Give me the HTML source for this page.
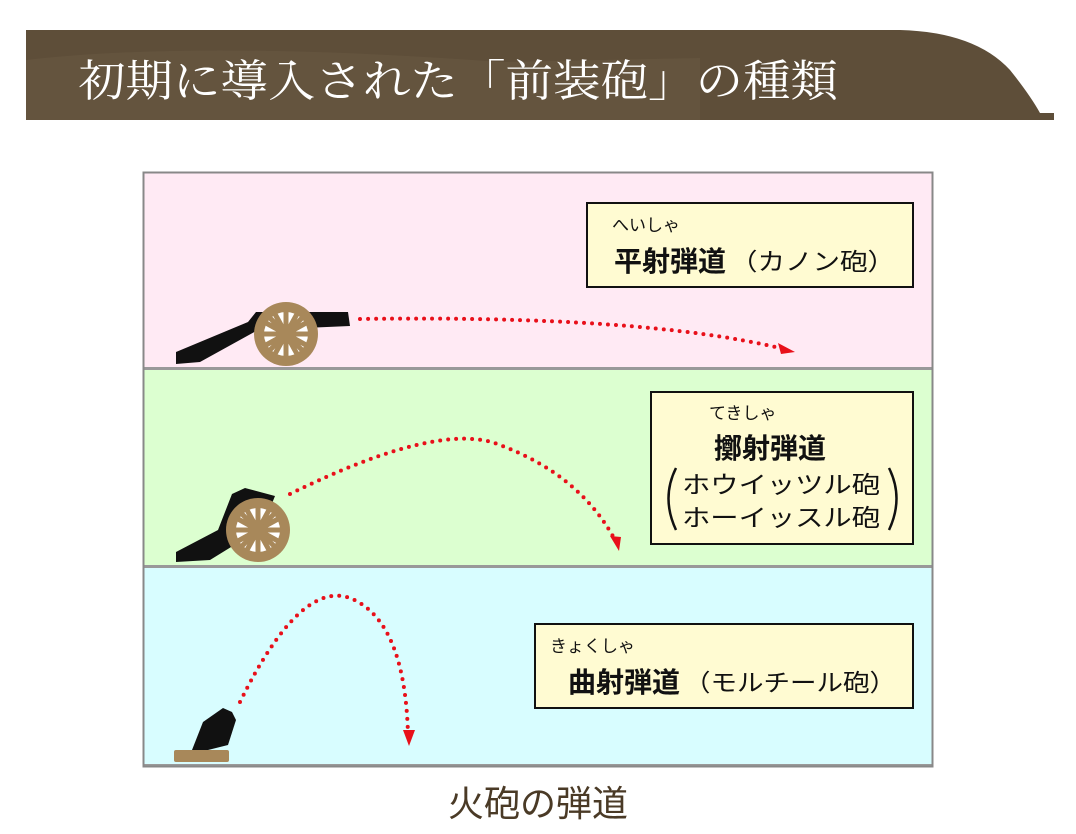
<!DOCTYPE html>
<html><head><meta charset="utf-8"><style>
body{margin:0;background:#fff;width:1076px;height:834px;overflow:hidden}
svg{display:block}
.s{font-family:"Liberation Sans","Noto Sans CJK JP",sans-serif}
.j{font-family:"Noto Sans CJK JP",sans-serif}
.t{font-family:"Noto Serif CJK JP","Noto Serif CJK SC",serif}
</style></head><body>
<svg width="1076" height="834" viewBox="0 0 1076 834">
<!-- header -->
<path d="M26 30 H900 Q975 32 1010 70 Q1030 95 1040 113 H1054 V120 H26 Z" fill="#5e4e39"/>
<path d="M26 60 Q200 40 500 62 L700 58 V120 H26Z" fill="#6a5a44" opacity="0.5"/>
<text class="t" x="78" y="96" font-size="44" fill="#fff" textLength="760" lengthAdjust="spacingAndGlyphs">初期に導入された「前装砲」の種類</text>
<!-- panels -->
<rect x="144" y="173" width="788" height="194" fill="#ffeaf4"/>
<rect x="144" y="370" width="788" height="195" fill="#dcffd0"/>
<rect x="144" y="568" width="788" height="196" fill="#d8fdff"/>
<rect x="144" y="367" width="788" height="3" fill="#999"/>
<rect x="144" y="565" width="788" height="3" fill="#999"/>
<rect x="144" y="764" width="788" height="3" fill="#999"/>
<rect x="143.5" y="172.5" width="789" height="594" fill="none" stroke="#888" stroke-width="2"/>
<!-- boxes -->
<rect x="587" y="203" width="326" height="84" fill="#fffbd2" stroke="#111" stroke-width="2"/>
<text class="j" x="612" y="231" font-size="17" fill="#111">へいしゃ</text>
<text class="j" x="614" y="271" font-size="28" font-weight="bold" fill="#111">平射弾道</text>
<text class="j" x="730" y="270" font-size="24" fill="#111" textLength="165" lengthAdjust="spacingAndGlyphs">（カノン砲）</text>
<rect x="651" y="392" width="262" height="152" fill="#fffbd2" stroke="#111" stroke-width="2"/>
<text class="j" x="709" y="419" font-size="17" fill="#111">てきしゃ</text>
<text class="j" x="714" y="458" font-size="28" font-weight="bold" fill="#111">擲射弾道</text>
<text class="j" x="682" y="493" font-size="24" fill="#111" textLength="198" lengthAdjust="spacingAndGlyphs">ホウイッツル砲</text>
<text class="j" x="682" y="526" font-size="24" fill="#111" textLength="198" lengthAdjust="spacingAndGlyphs">ホーイッスル砲</text>
<path d="M676 468 Q661 498 676 530" fill="none" stroke="#111" stroke-width="2.5"/>
<path d="M889 468 Q904 498 889 530" fill="none" stroke="#111" stroke-width="2.5"/>
<rect x="535" y="624" width="378" height="84" fill="#fffbd2" stroke="#111" stroke-width="2"/>
<text class="j" x="550" y="652" font-size="17" fill="#111">きょくしゃ</text>
<text class="j" x="568" y="692" font-size="28" font-weight="bold" fill="#111">曲射弾道</text>
<text class="j" x="684" y="691" font-size="24" fill="#111" textLength="212" lengthAdjust="spacingAndGlyphs">（モルチール砲）</text>
<!-- trajectories -->
<g fill="none" stroke="#e8101a" stroke-width="4" stroke-dasharray="0 8" stroke-linecap="round">
<path d="M360 319 Q640 315 780 348"/>
<path d="M290 494 Q440 420 500 445 Q580 475 615 540"/>
<path d="M240 702 Q300 580 350 598 Q405 620 408 735"/>
</g>
<path d="M795 352 L778 343 L781 354 Z" fill="#e8101a"/>
<path d="M619 551 L610 536 L621 537 Z" fill="#e8101a"/>
<path d="M409 746 L403 730 L415 730 Z" fill="#e8101a"/>
<!-- cannon 1 -->
<path d="M176 364 L176 352 L248 322 L256 312 L348 312 L350 326 L258 330 L200 362 Z" fill="#111"/>
<circle cx="286" cy="334" r="32" fill="#a8885a"/>
<circle cx="286" cy="334" r="22" fill="#fff"/>
<g stroke="#a8885a" stroke-width="5">
<path d="M286 312 V356 M264 334 H308 M270 318 L302 350 M302 318 L270 350 M275 314 L297 354 M297 314 L275 354 M266 323 L306 345 M306 323 L266 345"/>
</g>
<circle cx="286" cy="334" r="8" fill="#a8885a"/>
<!-- cannon 2 -->
<path d="M176 562 L176 552 L218 530 L232 494 L245 488 L275 496 L262 528 L210 560 Z" fill="#111"/>
<circle cx="258" cy="530" r="32" fill="#a8885a"/>
<circle cx="258" cy="530" r="22" fill="#fff"/>
<g stroke="#a8885a" stroke-width="5">
<path d="M258 508 V552 M236 530 H280 M242 514 L274 546 M274 514 L242 546 M247 510 L269 550 M269 510 L247 550 M238 519 L278 541 M278 519 L238 541"/>
</g>
<circle cx="258" cy="530" r="8" fill="#a8885a"/>
<!-- mortar -->
<path d="M192 750 L203 722 L223 708 L232 712 L236 720 L228 745 L200 752 Z" fill="#111"/>
<rect x="174" y="750" width="55" height="12" rx="2" fill="#a8885a"/>
<!-- caption -->
<text class="j" x="538" y="816" font-size="36" fill="#4a3a26" text-anchor="middle">火砲の弾道</text>
</svg>
</body></html>
